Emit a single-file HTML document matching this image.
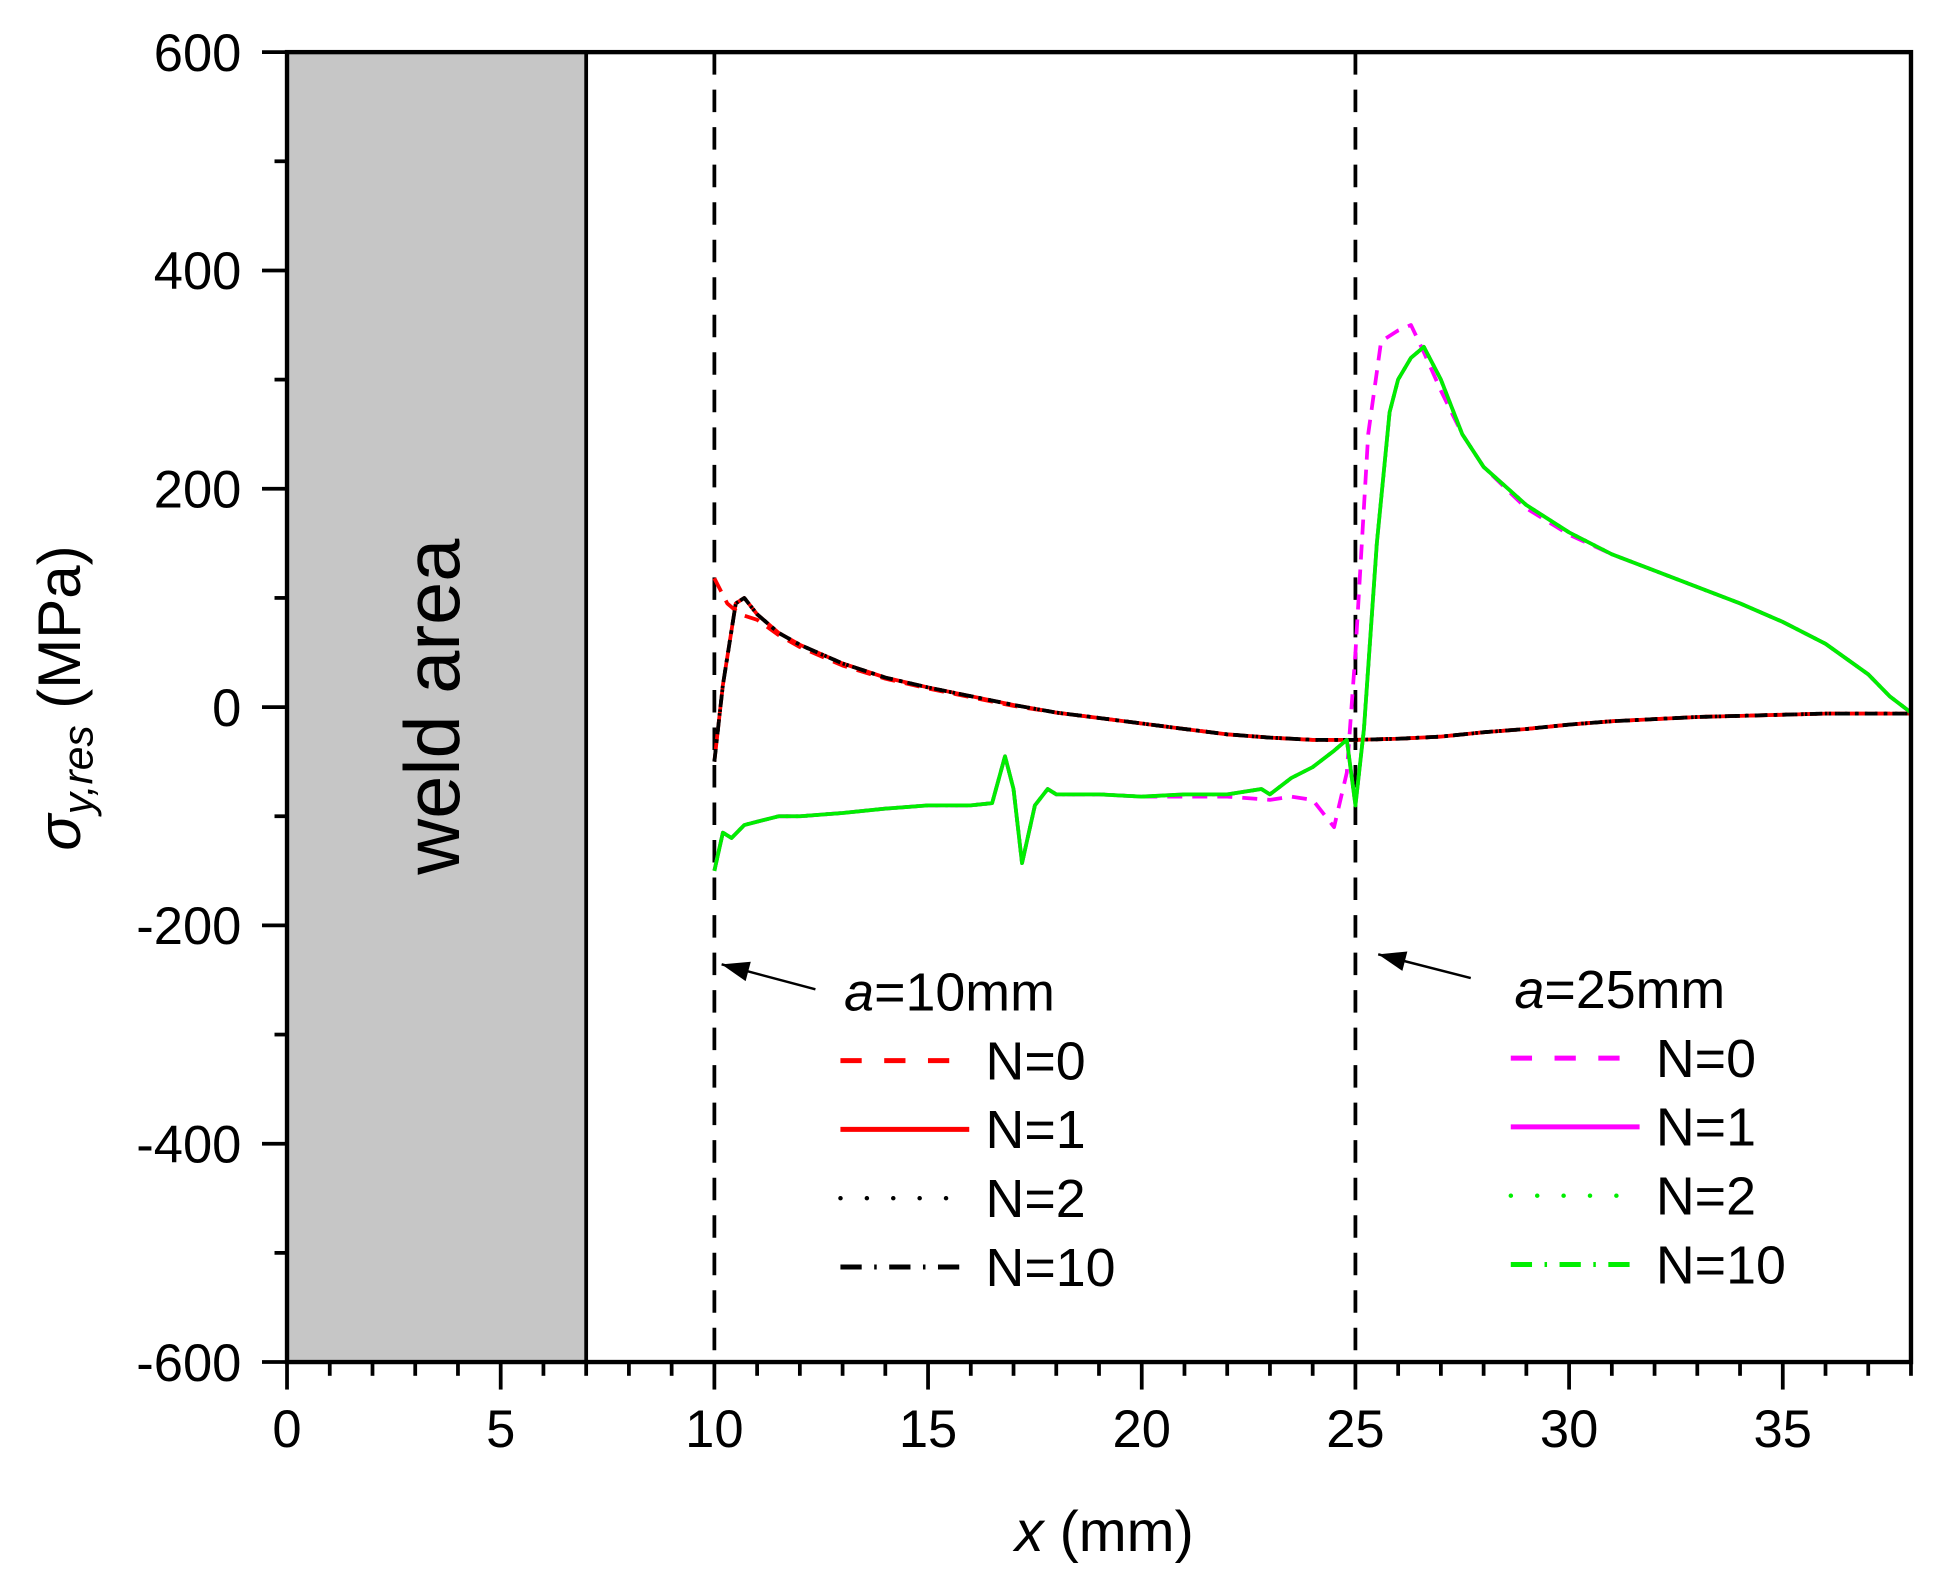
<!DOCTYPE html>
<html><head><meta charset="utf-8">
<style>
html,body{margin:0;padding:0;background:#fff;}
svg{display:block;font-family:"Liberation Sans",Arial,sans-serif;}
</style></head>
<body>
<svg id="chart" width="1951" height="1576" viewBox="0 0 1560 1260" xmlns="http://www.w3.org/2000/svg">
<g id="plot"></g>
</svg>
<script>
const xTicks = [0,5,10,15,20,25,30,35];
const yTicks = [600,400,200,0,-200,-400,-600];
const blackX = [10,10.2,10.5,10.7,11,11.5,12,13,14,15,16,17,18,19,20,21,22,23,24,25,26,27,28,29,30,31,32,33,34,35,36,37,38];
const blackY = [-50,20,95,100,85,68,57,40,27,18,10,2,-5,-10,-15,-20,-25,-28,-30,-30,-29,-27,-23,-20,-16,-13,-11,-9,-8,-7,-6,-6,-6];
const redX = [10,10.3,10.6,11,11.5,12,13,14,15,16,17,18,19,20,21,22,23,24,25,26,27,28,29,30,31,32,33,34,35,36,37,38];
const redY = [118,95,85,80,66,55,38,26,17,9,1,-5,-10,-15,-20,-25,-28,-30,-30,-29,-27,-23,-20,-16,-13,-11,-9,-8,-7,-6,-6,-6];
const greenX = [10,10.2,10.4,10.7,11,11.5,12,13,14,15,16,16.5,16.8,17,17.2,17.5,17.8,18,19,20,21,22,22.8,23,23.5,24,24.5,24.8,25,25.2,25.5,25.8,26,26.3,26.6,27,27.5,28,29,30,31,32,33,34,35,36,37,37.5,38];
const greenY = [-150,-115,-120,-108,-105,-100,-100,-97,-93,-90,-90,-88,-45,-75,-143,-90,-75,-80,-80,-82,-80,-80,-75,-80,-65,-55,-40,-30,-90,-20,150,270,300,320,330,300,250,220,185,160,140,125,110,95,78,58,30,10,-5];
const magX = [10,10.2,10.4,10.7,11,11.5,12,13,14,15,16,16.5,16.8,17,17.2,17.5,17.8,18,19,20,21,22,23,23.5,24,24.5,24.8,25,25.3,25.6,26,26.3,26.6,27,27.5,28,29,30,31,32,33,34,35,36,37,37.5,38];
const magY = [-150,-115,-120,-108,-105,-100,-100,-97,-93,-90,-90,-88,-45,-75,-143,-90,-75,-80,-80,-82,-82,-82,-85,-82,-85,-110,-60,50,250,335,345,350,325,290,250,220,182,158,140,125,110,95,78,58,30,10,-5];

const X0=229.5,X1=1528,Y0=41.6,Y1=1089;
const xs=v=>X0+(v-0)/38*(X1-X0);
const ys=v=>Y1-(v+600)/1200*(Y1-Y0);
const NS='http://www.w3.org/2000/svg';
const g=document.getElementById('plot');
function mk(tag,attrs,parent){const e=document.createElementNS(NS,tag);for(const k in attrs)e.setAttribute(k,attrs[k]);(parent||g).appendChild(e);return e;}

// weld area
let e=mk('rect',{x:xs(0),y:Y0,width:xs(7)-xs(0),height:Y1-Y0,fill:'#c6c6c6',stroke:'#000','stroke-width':3});


e=mk('text',{x:0,y:0,'font-size':62,'text-anchor':'middle',transform:`translate(367,565) rotate(-90)`});
e.textContent='weld area';



// crack lines
[10,25].forEach(v=>{
  const l=mk('line',{x1:xs(v),x2:xs(v),y1:Y0,y2:Y1,stroke:'#000','stroke-width':3,'stroke-dasharray':'18,12'});
  
  
});

function series(X,Y,color,dash,w,name){
  const d=X.map((v,i)=>(i?'L':'M')+xs(v).toFixed(1)+','+ys(Y[i]).toFixed(1)).join(' ');
  const p=mk('path',{d:d,fill:'none',stroke:color,'stroke-width':w,'stroke-dasharray':dash||'none','stroke-linejoin':'round'});
  
  
}
series(redX,redY,'#ff0000','12,8',3,'series-a10-n0');
series(blackX,blackY,'#ff0000','',3,'series-a10-n1');
series(blackX,blackY,'#000','2,6',3,'series-a10-n2');
series(blackX,blackY,'#000','10,5,2,5',3,'series-a10-n10');
series(magX,magY,'#ff00ff','12,8',3,'series-a25-n0');
series(greenX,greenY,'#ff00ff','',3,'series-a25-n1');
series(greenX,greenY,'#00ee00','2,6',3,'series-a25-n2');
series(greenX,greenY,'#00ee00','',3,'series-a25-n10');

// axes frame
e=mk('rect',{x:X0,y:Y0,width:X1-X0,height:Y1-Y0,fill:'none',stroke:'#000','stroke-width':3.5});



// x ticks
for(let v=0;v<=38;v++){
  const major=v%5===0;
  mk('line',{x1:xs(v),x2:xs(v),y1:Y1,y2:Y1+(major?22:11),stroke:'#000','stroke-width':3});
}
xTicks.forEach(v=>{
  const t=mk('text',{x:xs(v),y:1157,'font-size':42,'text-anchor':'middle'});
  t.textContent=v;
  
  
});
// y ticks
for(let v=-600;v<=600;v+=100){
  const major=v%200===0;
  mk('line',{x1:X0,x2:X0-(major?20:10),y1:ys(v),y2:ys(v),stroke:'#000','stroke-width':3});
}
yTicks.forEach(v=>{
  const t=mk('text',{x:193,y:ys(v)+15,'font-size':42,'text-anchor':'end'});
  t.textContent=v;
  
  
});

// axis titles
e=mk('text',{x:883,y:1240,'font-size':46,'text-anchor':'middle'});
e.innerHTML='<tspan font-style="italic">x</tspan> (mm)';


e=mk('text',{x:0,y:0,'font-size':48,'text-anchor':'middle',transform:'translate(64,558) rotate(-90)'});
e.innerHTML='<tspan font-style="italic">σ</tspan><tspan font-style="italic" font-size="34" dy="10">y,res</tspan><tspan dy="-10"> (MPa)</tspan>';



// arrows
function arrow(x1,y1,x2,y2,name){
  const a=mk('line',{x1:x1,y1:y1,x2:x2,y2:y2,stroke:'#000','stroke-width':2});
  
  
  const ang=Math.atan2(y2-y1,x2-x1),L=22,W=8;
  const bx=x2-L*Math.cos(ang),by=y2-L*Math.sin(ang);
  const px=-Math.sin(ang)*W,py=Math.cos(ang)*W;
  mk('polygon',{points:`${x2},${y2} ${bx+px},${by+py} ${bx-px},${by-py}`,fill:'#000'});
}
arrow(652,791,577,771,'arrow-a10');
arrow(1176,782,1102,763,'arrow-a25');

// legends
function legend(x,ty,title,items,name){
  const t=mk('text',{x:x+3,y:ty,'font-size':43});
  t.innerHTML='<tspan font-style="italic">a</tspan>'+title;
  
  
  items.forEach((it,i)=>{
    const y=ty+40+i*55;
    const l=mk('line',{x1:x,x2:x+103,y1:y,y2:y,stroke:it[0],'stroke-width':it[2]?3.5:4,'stroke-dasharray':it[1]||'none','stroke-linecap':it[2]?'round':'butt'});
    
    
    const tx=mk('text',{x:x+116,y:y+15,'font-size':43});
    tx.textContent=it[3];
    
    
  });
}
legend(672,808,'=10mm',[['#ff0000','17,18',0,'N=0'],['#ff0000','',0,'N=1'],['#000','0.1,21',1,'N=2'],['#000','17,10,2,10',0,'N=10']],'legend-a10');
legend(1208,806,'=25mm',[['#ff00ff','17,18',0,'N=0'],['#ff00ff','',0,'N=1'],['#00ee00','0.1,21',1,'N=2'],['#00ee00','17,10,2,10',0,'N=10']],'legend-a25');
</script>
</body></html>
